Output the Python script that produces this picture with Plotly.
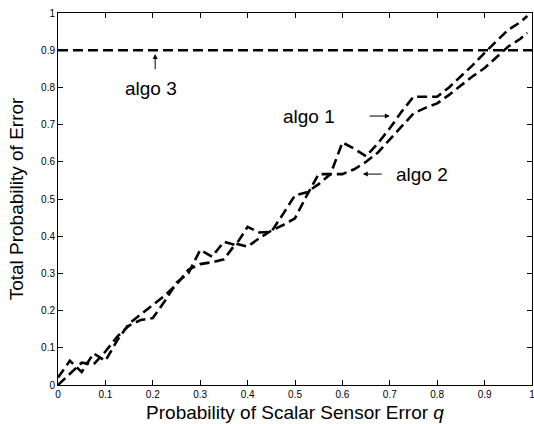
import plotly.graph_objects as go

q = [0, 0.025, 0.05, 0.075, 0.1, 0.125, 0.15, 0.175, 0.2, 0.225, 0.25, 0.275,
     0.3, 0.325, 0.35, 0.375, 0.4, 0.425, 0.45, 0.475, 0.5, 0.525, 0.55, 0.575,
     0.6, 0.625, 0.65, 0.675, 0.7, 0.725, 0.75, 0.775, 0.8, 0.825, 0.85, 0.875,
     0.9, 0.925, 0.95, 0.975, 0.99]

algo1 = [0.02, 0.065, 0.035, 0.085, 0.065, 0.12, 0.165, 0.19, 0.215, 0.24, 0.27, 0.31,
         0.325, 0.33, 0.338, 0.38, 0.372, 0.395, 0.415, 0.43, 0.448, 0.51, 0.567, 0.567,
         0.652, 0.635, 0.615, 0.65, 0.69, 0.735, 0.775, 0.775, 0.775, 0.80, 0.83, 0.86,
         0.893, 0.925, 0.955, 0.975, 0.992]

algo2 = [0.0, 0.03, 0.06, 0.055, 0.09, 0.13, 0.16, 0.175, 0.18, 0.225, 0.275, 0.30,
         0.363, 0.345, 0.385, 0.376, 0.425, 0.41, 0.412, 0.46, 0.51, 0.518, 0.54, 0.567,
         0.567, 0.58, 0.60, 0.625, 0.66, 0.695, 0.73, 0.745, 0.757, 0.78, 0.805, 0.83,
         0.852, 0.88, 0.91, 0.93, 0.947]

algo3_x = [0, 1]
algo3 = [0.9, 0.9]

tick_vals = [0, 0.1, 0.2, 0.3, 0.4, 0.5, 0.6, 0.7, 0.8, 0.9, 1]
tick_text = ["0", "0.1", "0.2", "0.3", "0.4", "0.5", "0.6", "0.7", "0.8", "0.9", "1"]

FONT = "Liberation Sans, Arial, Helvetica, sans-serif"
line_style = dict(color="black", width=2.6, dash="10px,5px")

fig = go.Figure()
fig.add_trace(go.Scatter(x=q, y=algo1, mode="lines", line=line_style, name="algo 1"))
fig.add_trace(go.Scatter(x=q, y=algo2, mode="lines", line=line_style, name="algo 2"))
fig.add_trace(go.Scatter(x=algo3_x, y=algo3, mode="lines", line=line_style, name="algo 3"))

axis_common = dict(
    range=[0, 1], tickvals=tick_vals, ticktext=tick_text,
    ticks="inside", ticklen=5, tickwidth=1, tickcolor="black",
    showline=True, linecolor="black", linewidth=1, mirror="ticks",
    showgrid=False, zeroline=False, ticklabeloverflow="allow", automargin=False,
    tickfont=dict(family=FONT, size=10, color="black"),
)

fig.update_layout(
    width=534, height=424,
    margin=dict(l=58, r=2, t=13, b=39),
    paper_bgcolor="white", plot_bgcolor="white",
    showlegend=False,
    font=dict(family=FONT, color="black"),
    xaxis=dict(**axis_common,
               title=dict(text="Probability of Scalar Sensor Error <i>q</i>",
                          font=dict(family=FONT, size=19), standoff=6)),
    yaxis=dict(**axis_common,
               title=dict(text="Total Probability of Error",
                          font=dict(family=FONT, size=19), standoff=12)),
)

labels = [
    dict(text="algo 3", x=0.196, y=0.798),
    dict(text="algo 1", x=0.53, y=0.723),
    dict(text="algo 2", x=0.768, y=0.567),
]
for lb in labels:
    fig.add_annotation(x=lb["x"], y=lb["y"], text=lb["text"], showarrow=False,
                       font=dict(family=FONT, size=19, color="black"))

arrows = [
    dict(x=0.205, y=0.89, ax=0.205, ay=0.845),
    dict(x=0.70, y=0.723, ax=0.654, ay=0.723),
    dict(x=0.643, y=0.567, ax=0.686, ay=0.567),
]
for ar in arrows:
    fig.add_annotation(x=ar["x"], y=ar["y"], ax=ar["ax"], ay=ar["ay"],
                       xref="x", yref="y", axref="x", ayref="y", text="",
                       showarrow=True, arrowhead=2, arrowsize=1, arrowwidth=1,
                       arrowcolor="black")

fig.write_html("out.html")
